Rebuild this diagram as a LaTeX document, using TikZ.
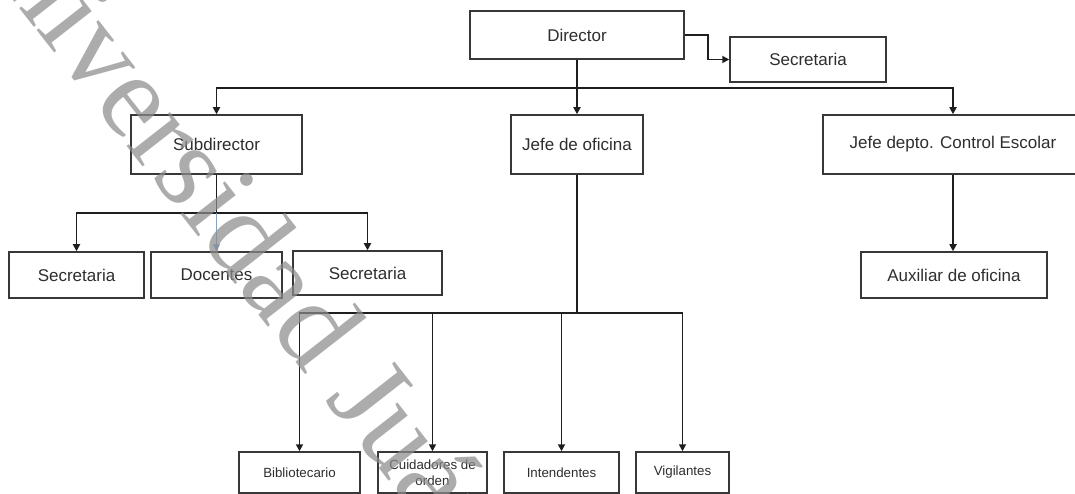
\documentclass[tikz,border=0pt]{standalone}
\usepackage{fontspec}
\setmainfont{Liberation Sans}
\newfontfamily\wmfont{Liberation Serif}
\usetikzlibrary{arrows.meta}
\definecolor{boxc}{HTML}{383838}
\definecolor{linec}{HTML}{1E1E1E}
\definecolor{txtc}{HTML}{2E2E2E}
\definecolor{bluec}{HTML}{6FA8DC}
\definecolor{wmc}{HTML}{8C8C8C}
\begin{document}
\begin{tikzpicture}[x=1pt,y=-1pt,
  box/.style={draw=boxc, line width=1.5pt, inner sep=0pt, text=txtc, align=center,
    font=\fontsize{17}{16}\selectfont},
  smallbox/.style={box, font=\fontsize{13.3}{16}\selectfont},
  conn/.style={draw=linec, line width=1.7pt},
  arr/.style={conn, -{Triangle[length=7pt,width=7pt]}},
  arrblue/.style={draw=bluec, line width=1pt, -{Triangle[length=7pt,width=7pt]}},
  wm/.style={text=wmc, opacity=0.72, inner sep=0pt, font=\fontsize{120}{120}\wmfont}]
\useasboundingbox (0,0) rectangle (1075,494);
\clip (0,0) rectangle (1075,494);
\fill[white] (0,0) rectangle (1075,494);
% boxes
\node[box, minimum width=214pt, minimum height=48pt] (dir)  at (577,35)    {Director};
\node[box, minimum width=156pt, minimum height=45pt] (sec0) at (808,59.5)  {Secretaria};
\node[box, minimum width=171pt, minimum height=59pt] (sub)  at (216.5,144.5) {Subdirector};
\node[box, minimum width=132pt, minimum height=59pt] (jefe) at (577,144.5) {Jefe de oficina};
\node[box, minimum width=260pt, minimum height=59pt] (ctrl) at (953,144.5) {Jefe depto. Control Escolar};
\node[box, minimum width=135pt, minimum height=46pt] (secL) at (76.5,275)  {Secretaria};
\node[box, minimum width=131pt, minimum height=46pt] (doc)  at (216.5,275) {Docentes};
\node[box, minimum width=149pt, minimum height=44pt] (secR) at (367.5,273) {Secretaria};
\node[box, minimum width=186pt, minimum height=46pt] (aux)  at (954,275)   {Auxiliar de oficina};
\node[smallbox, minimum width=121pt, minimum height=41pt] (bib)  at (299.5,472.5) {Bibliotecario};
\node[smallbox, minimum width=109pt, minimum height=41pt] (cui)  at (432.5,472.5) {Cuidadores de\\orden};
\node[smallbox, minimum width=115pt, minimum height=41pt] (int)  at (561.5,472.5) {Intendentes};
\node[smallbox, minimum width=93pt,  minimum height=41pt] (vig)  at (682.5,472.5) {Vigilantes};
% connectors
\coordinate (h1) at (577,88);
\coordinate (h2) at (216.5,213);
\coordinate (h3) at (577,313);
\draw[arr] (dir.south) -- (jefe.north);
\draw[arr] (h1) -| (sub.north);
\draw[arr] (h1) -| (ctrl.north);
\draw[arr] (dir.east) -- ++(23,0) |- (sec0.west);
\draw[conn] (sub.south) -- (h2);
\draw[arr] (h2) -| (secL.north);
\draw[arr] (h2) -| (secR.north);
\draw[arrblue] (h2) -- (doc.north);
\draw[conn] (jefe.south) -- (h3);
\draw[arr] (h3) -| (bib.north);
\draw[arr] (h3) -| (cui.north);
\draw[arr] (h3) -| (int.north);
\draw[arr] (h3) -| (vig.north);
\draw[arr] (ctrl.south) -- (ctrl.south |- aux.north);
% watermark
\node[wm, rotate=-52, anchor=base west] (wmark) at (-55,-87) {Universidad Juárez};
\end{tikzpicture}
\end{document}
